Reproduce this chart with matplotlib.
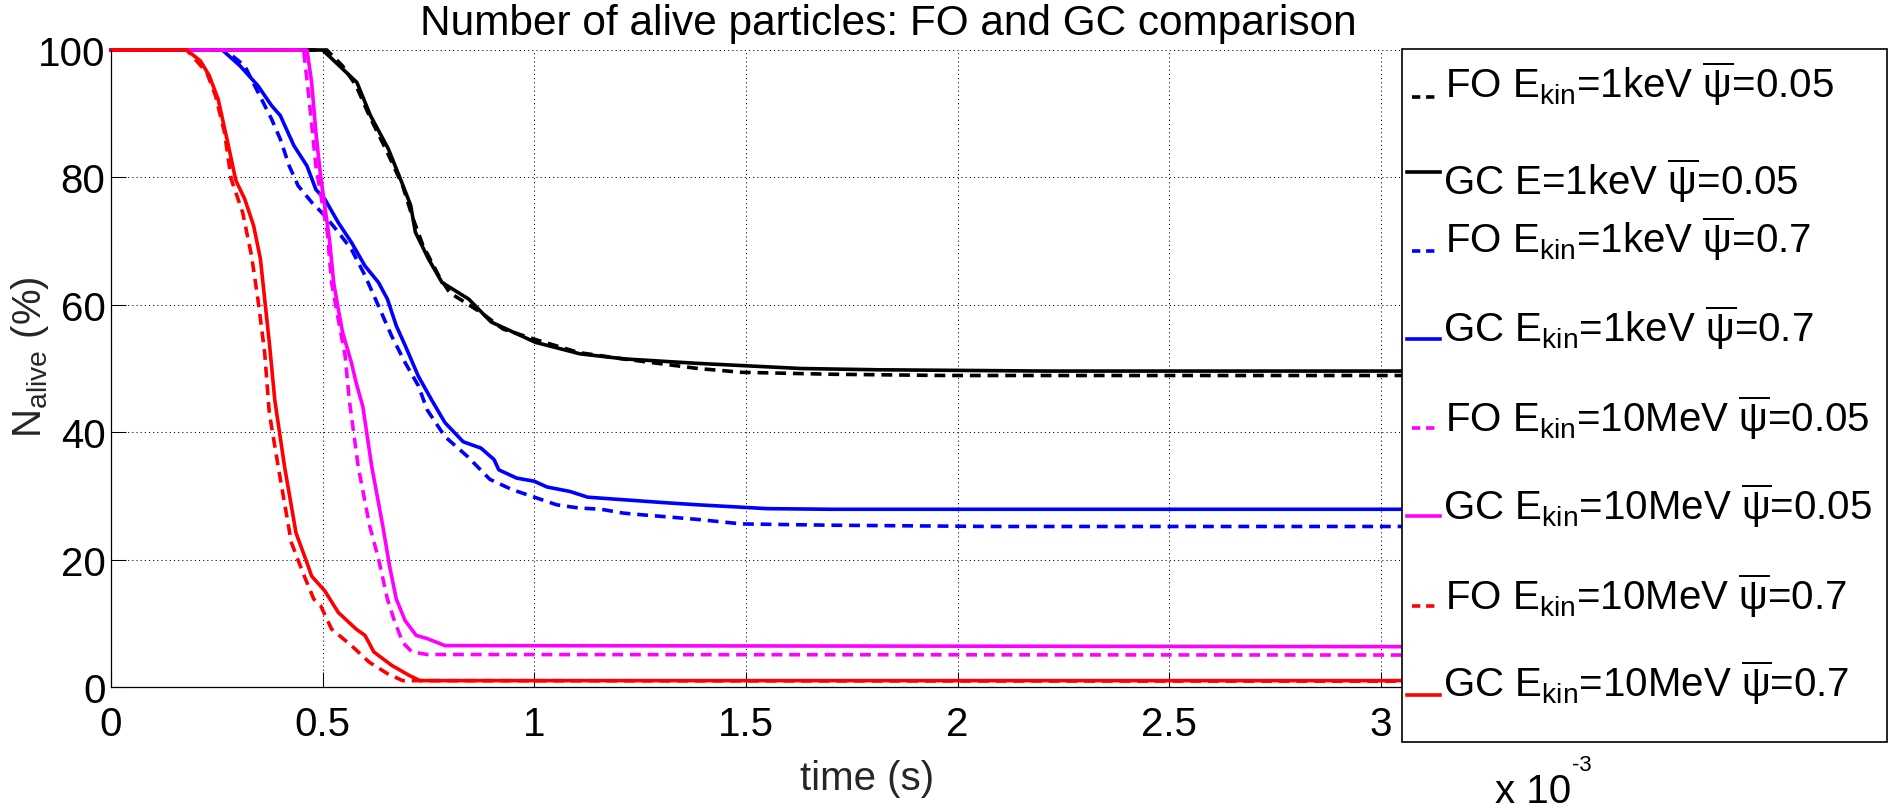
"""
Number of alive particles: FO vs GC comparison (MATLAB-style figure)
"""
import numpy as np
import matplotlib
matplotlib.use('Agg')
import matplotlib.pyplot as plt
from matplotlib.lines import Line2D
from matplotlib.patches import Rectangle
from matplotlib.ticker import FuncFormatter

# time in units of 1e-3 s, N_alive in %
t_fo_1kev_005 = [0, 0.51, 0.547, 0.579, 0.61, 0.653, 0.689, 0.711, 0.737, 0.774, 0.80,
                 0.874, 0.926, 1.0, 1.105, 1.21, 1.387, 1.49, 1.70, 1.97, 3.5]
n_fo_1kev_005 = [100, 100, 97.5, 94.4, 89.7, 83.9, 78.7, 74.0, 69.3, 64.6, 61.9,
                 58.8, 56.2, 54.6, 52.5, 51.5, 50.0, 49.4, 49.1, 48.9, 48.9]

t_gc_1kev_005 = [0, 0.50, 0.581, 0.613, 0.655, 0.687, 0.708, 0.719, 0.750, 0.782, 0.845,
                 0.898, 1.003, 1.108, 1.214, 1.387, 1.63, 1.81, 2.21, 3.5]
n_gc_1kev_005 = [100, 100, 94.9, 89.7, 84.5, 79.2, 75.6, 71.4, 67.2, 63.5, 60.9,
                 57.3, 54.1, 52.3, 51.5, 50.8, 50.0, 49.8, 49.6, 49.6]

t_fo_1kev_07 = [0, 0.27, 0.316, 0.347, 0.379, 0.40, 0.421, 0.442, 0.474, 0.505, 0.537,
                0.568, 0.60, 0.632, 0.663, 0.695, 0.726, 0.747, 0.789, 0.842, 0.895,
                0.947, 1.0, 1.053, 1.105, 1.158, 1.21, 1.26, 1.316, 1.387, 1.49, 1.70,
                2.08, 3.5]
n_fo_1kev_07 = [100, 100, 97.5, 93.4, 89.2, 86.0, 81.8, 78.7, 76.1, 74.0, 71.4,
                68.7, 64.6, 59.8, 55.1, 50.9, 47.3, 43.5, 39.3, 36.2, 32.6,
                31.0, 29.8, 28.6, 28.1, 27.9, 27.3, 27.0, 26.7, 26.3, 25.6, 25.4,
                25.2, 25.2]

t_gc_1kev_07 = [0, 0.263, 0.305, 0.347, 0.379, 0.40, 0.432, 0.463, 0.484, 0.505, 0.537,
                0.568, 0.60, 0.632, 0.653, 0.674, 0.695, 0.726, 0.758, 0.789, 0.832,
                0.874, 0.905, 0.916, 0.958, 1.0, 1.03, 1.084, 1.126, 1.21, 1.316,
                1.387, 1.55, 1.70, 3.5]
n_gc_1kev_07 = [100, 100, 97.5, 94.4, 91.3, 89.7, 85.0, 81.8, 78.1, 76.6, 72.9,
                69.8, 66.1, 63.5, 60.9, 56.7, 53.6, 48.8, 45.0, 41.5, 38.5,
                37.5, 35.7, 34.1, 32.8, 32.3, 31.4, 30.7, 29.8, 29.4, 28.9,
                28.6, 28.0, 27.9, 27.9]

t_fo_10mev_005 = [0, 0.455, 0.468, 0.484, 0.50, 0.511, 0.521, 0.537, 0.553, 0.563, 0.584,
                  0.611, 0.632, 0.653, 0.668, 0.689, 0.711, 0.747, 3.5]
n_fo_10mev_005 = [100, 100, 92.3, 81.8, 75.5, 71.4, 63.5, 57.7, 52.0, 45.0, 34.6,
                  25.3, 20.1, 13.8, 10.7, 7.0, 5.5, 5.1, 5.0]

t_gc_10mev_005 = [0, 0.463, 0.474, 0.484, 0.495, 0.505, 0.516, 0.526, 0.537, 0.547, 0.568,
                  0.579, 0.595, 0.616, 0.642, 0.658, 0.674, 0.695, 0.721, 0.747, 0.789, 3.5]
n_gc_10mev_005 = [100, 100, 94.9, 87.1, 80.3, 75.5, 70.3, 63.5, 59.3, 55.7, 50.9,
                  47.8, 44.0, 34.6, 25.3, 19.0, 13.8, 10.4, 8.1, 7.6, 6.5, 6.3]

t_fo_10mev_07 = [0, 0.179, 0.226, 0.247, 0.268, 0.284, 0.311, 0.332, 0.347, 0.363, 0.374,
                 0.395, 0.426, 0.453, 0.479, 0.495, 0.521, 0.568, 0.61, 0.653, 0.689, 3.5]
n_fo_10mev_07 = [100, 100, 96.5, 92.8, 87.1, 79.7, 74.5, 67.7, 60.9, 52.5, 43.0,
                 34.6, 22.7, 18.0, 13.8, 12.8, 9.1, 6.5, 3.9, 2.1, 1.0, 0.9]

t_gc_10mev_07 = [0, 0.179, 0.211, 0.232, 0.253, 0.274, 0.295, 0.316, 0.337, 0.353, 0.363,
                 0.374, 0.387, 0.41, 0.437, 0.463, 0.474, 0.505, 0.537, 0.579, 0.60,
                 0.621, 0.663, 0.705, 0.73, 3.5]
n_gc_10mev_07 = [100, 100, 98.3, 96.0, 92.3, 86.0, 79.5, 76.6, 72.4, 67.2, 60.9,
                 54.1, 45.0, 34.6, 24.2, 19.5, 17.4, 15.1, 11.7, 9.1, 8.1,
                 5.5, 3.4, 1.8, 1.0, 1.0]

etiquetas = [
    r'FO E$_{kin}$=1keV $\overline{\psi}$=0.05',
    r'GC E=1keV $\overline{\psi}$=0.05',
    r'FO E$_{kin}$=1keV $\overline{\psi}$=0.7',
    r'GC E$_{kin}$=1keV $\overline{\psi}$=0.7',
    r'FO E$_{kin}$=10MeV $\overline{\psi}$=0.05',
    r'GC E$_{kin}$=10MeV $\overline{\psi}$=0.05',
    r'FO E$_{kin}$=10MeV $\overline{\psi}$=0.7',
    r'GC E$_{kin}$=10MeV $\overline{\psi}$=0.7',
]

MAGENTA = '#FF00FF'
series = [
    (t_fo_1kev_005, n_fo_1kev_005, 'k', '--'),
    (t_gc_1kev_005, n_gc_1kev_005, 'k', '-'),
    (t_fo_1kev_07, n_fo_1kev_07, '#0000FF', '--'),
    (t_gc_1kev_07, n_gc_1kev_07, '#0000FF', '-'),
    (t_fo_10mev_005, n_fo_10mev_005, MAGENTA, '--'),
    (t_gc_10mev_005, n_gc_10mev_005, MAGENTA, '-'),
    (t_fo_10mev_07, n_fo_10mev_07, '#FF0000', '--'),
    (t_gc_10mev_07, n_gc_10mev_07, '#FF0000', '-'),
]

plt.rcParams['font.family'] = ['Liberation Sans', 'DejaVu Sans']
plt.rcParams['mathtext.fontset'] = 'custom'
plt.rcParams['mathtext.rm'] = 'Liberation Sans'
plt.rcParams['mathtext.it'] = 'Liberation Sans'
plt.rcParams['mathtext.default'] = 'regular'

W, H = 1891, 812
FS = 29
fig = plt.figure(figsize=(W / 100, H / 100), dpi=100, facecolor='white')


def fx(x):
    return x / W


def fy(y):
    return 1 - y / H


# Ejes (pixeles medidos sobre la imagen)
x_izq, x_der, y_arr, y_abj = 111, 1620, 51, 688
ax = fig.add_axes([fx(x_izq), fy(y_abj), (x_der - x_izq) / W, (y_abj - y_arr) / H])
px_por_unidad = 423.3
ax.set_xlim(0, (x_der - x_izq) / px_por_unidad)
ax.set_ylim(0, 100)

lw = 2.6
for (t, n, color, estilo) in series:
    linea, = ax.plot(t, n, color=color, linestyle=estilo, linewidth=lw, clip_on=False)
    if estilo == '--':
        linea.set_dashes((3.0, 1.9))

ax.set_xticks(np.arange(0, 3.51, 0.5))
ax.set_yticks(np.arange(0, 101, 20))
ax.xaxis.set_major_formatter(FuncFormatter(lambda v, p: '%g' % v))
ax.yaxis.set_major_formatter(FuncFormatter(lambda v, p: '%g' % v))
ax.tick_params(direction='in', length=11, width=0.75, labelsize=FS, colors='black')
ax.tick_params(axis='x', pad=13)
ax.tick_params(axis='y', pad=4)
ax.grid(True, color='black', linestyle=(0, (1, 3)), linewidth=0.75)
ax.spines['top'].set_visible(False)
ax.spines['right'].set_visible(False)
for s in ('left', 'bottom'):
    ax.spines[s].set_linewidth(0.9)

# Textos
fig.text(fx(888), fy(35), 'Number of alive particles: FO and GC comparison',
         ha='center', va='baseline', fontsize=30.5)
fig.text(fx(867), fy(790), 'time (s)', ha='center', va='baseline',
         fontsize=FS, color='#262626')
fig.text(fx(30), fy(357), r'N$_{alive}$ (%)', ha='center', va='center',
         rotation=90, fontsize=FS, color='#262626')
fig.text(fx(1495), fy(803), 'x 10', ha='left', va='baseline', fontsize=FS)
fig.text(fx(1572), fy(771), '-3', ha='left', va='baseline', fontsize=FS * 0.55)

# Leyenda dibujada a mano (estilo MATLAB)
caja = Rectangle((fx(1402), fy(743)), (1887 - 1402) / W, (743 - 50) / H,
                 transform=fig.transFigure, facecolor='white', edgecolor='black',
                 linewidth=1.2, zorder=5)
fig.patches.append(caja)

base_texto = [98, 195, 253, 342, 432, 520, 610, 697]
base_linea = [98, 173, 252, 340, 429, 517, 607, 696]
for i, (etq, (t, n, color, estilo)) in enumerate(zip(etiquetas, series)):
    if estilo == '--':
        x0, x1, x_txt = 1412, 1437, 1445
    else:
        x0, x1, x_txt = 1407, 1440, 1443
    h = Line2D([fx(x0), fx(x1)], [fy(base_linea[i]), fy(base_linea[i])],
               transform=fig.transFigure, color=color, linestyle=estilo,
               linewidth=lw, zorder=6)
    if estilo == '--':
        h.set_dashes((2.3, 1.6))
    fig.add_artist(h)
    fig.text(fx(x_txt), fy(base_texto[i]), etq, ha='left', va='baseline',
             fontsize=FS, zorder=7)

fig.savefig('out.png', dpi=100, facecolor='white')
